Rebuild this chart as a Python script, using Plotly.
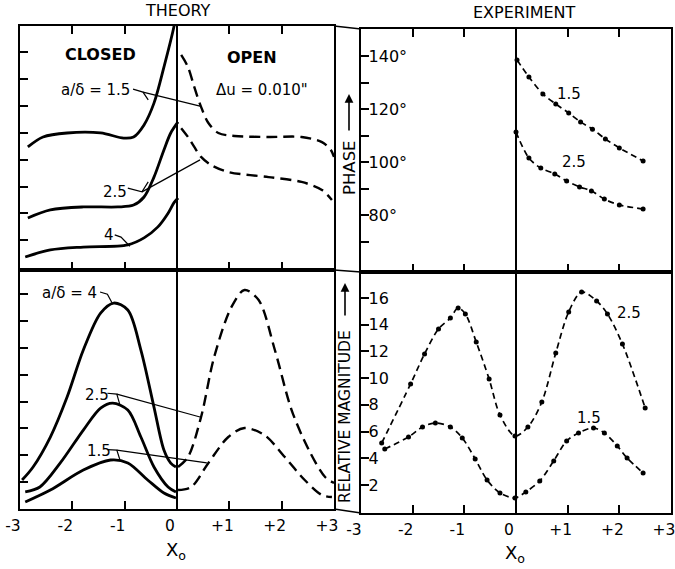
import plotly.graph_objects as go

# ---------------- data ----------------
# THEORY - phase (upper left)
th_ph_closed15_x = [-2.85, -2.56, -2.10, -1.46, -1.02, -0.83, -0.63, -0.44, -0.25, -0.06, 0.0]
th_ph_closed15_y = [104.7, 108.4, 109.9, 109.9, 108.0, 108.4, 112.9, 121.0, 134.4, 149.3, 156.0]
th_ph_open15_x = [0.08, 0.21, 0.33, 0.46, 0.60, 0.79, 1.10, 1.75, 2.38, 2.77, 2.94, 3.0]
th_ph_open15_y = [138.9, 134.4, 127.0, 119.6, 113.6, 109.9, 108.8, 108.4, 108.4, 106.5, 103.6, 101.0]
th_ph_closed25_x = [-2.85, -2.42, -1.79, -1.13, -0.83, -0.63, -0.44, -0.25, -0.12, 0.02]
th_ph_closed25_y = [78.3, 81.3, 82.4, 82.4, 83.1, 86.1, 93.5, 103.6, 109.9, 114.0]
th_ph_open25_x = [0.08, 0.21, 0.33, 0.46, 0.65, 0.98, 1.75, 2.38, 2.77, 2.96]
th_ph_open25_y = [111.7, 108.4, 104.7, 101.0, 98.0, 95.4, 93.5, 91.7, 88.7, 85.0]
th_ph_closed4_x = [-2.90, -2.42, -1.79, -0.94, -0.63, -0.37, -0.17, -0.06, 0.02]
th_ph_closed4_y = [63.8, 66.4, 67.5, 68.3, 70.9, 74.9, 80.1, 83.9, 85.7]

# THEORY - relative magnitude (lower left)
th_mag_closed4_x = [-2.96, -2.75, -2.42, -2.10, -1.79, -1.46, -1.21, -0.94, -0.69, -0.44, -0.25, -0.12, -0.02]
th_mag_closed4_y = [2.16, 3.13, 5.36, 8.34, 11.84, 14.59, 15.34, 14.82, 11.84, 7.59, 4.39, 3.42, 3.13]
th_mag_open25_x = [0.02, 0.21, 0.46, 0.71, 1.04, 1.29, 1.56, 1.87, 2.19, 2.52, 2.83, 3.0]
th_mag_open25_y = [3.13, 3.87, 6.85, 11.32, 15.04, 16.31, 15.56, 11.84, 7.37, 4.39, 2.38, 1.94]
th_mag_closed25_x = [-2.90, -2.62, -2.23, -1.79, -1.46, -1.23, -0.94, -0.69, -0.44, -0.17, -0.02]
th_mag_closed25_y = [1.27, 1.64, 3.43, 5.88, 7.52, 7.89, 7.37, 5.36, 3.13, 1.64, 1.27]
th_mag_closed15_x = [-2.90, -2.42, -1.79, -1.27, -0.94, -0.56, -0.25, -0.02]
th_mag_closed15_y = [0.52, 1.41, 2.90, 3.65, 3.43, 2.16, 1.19, 0.82]
th_mag_open15_x = [0.02, 0.27, 0.60, 0.98, 1.29, 1.67, 2.06, 2.44, 2.77, 2.96]
th_mag_open15_y = [1.41, 1.64, 3.43, 5.36, 6.03, 5.51, 3.87, 2.16, 1.04, 0.89]

# EXPERIMENT - phase (upper right)
ex_ph15_x = [0.02, 0.25, 0.52, 0.77, 1.02, 1.25, 1.48, 1.73, 2.0, 2.46]
ex_ph15_y = [138.5, 132.1, 125.7, 121.9, 118.5, 115.1, 112.4, 108.7, 105.3, 100.4]
ex_ph25_x = [0.0, 0.25, 0.48, 0.75, 0.98, 1.23, 1.46, 1.71, 2.0, 2.46]
ex_ph25_y = [111.3, 101.5, 97.7, 95.5, 92.8, 90.6, 89.1, 86.0, 83.8, 82.3]

# EXPERIMENT - relative magnitude (lower right)
ex_mag25_x = [-2.60, -2.04, -1.77, -1.50, -1.27, -1.12, -0.98, -0.77, -0.52, -0.31, -0.02,
              0.23, 0.50, 0.77, 1.02, 1.27, 1.56, 1.77, 2.06, 2.50]
ex_mag25_y = [5.14, 9.56, 11.81, 13.68, 14.50, 15.25, 14.80, 12.70, 9.93, 7.24, 5.67,
              6.34, 8.21, 11.88, 14.95, 16.45, 15.77, 14.80, 12.55, 7.76]
ex_mag15_x = [-2.54, -2.08, -1.81, -1.56, -1.27, -1.04, -0.79, -0.56, -0.31, -0.02,
              0.19, 0.46, 0.73, 0.98, 1.21, 1.50, 1.71, 1.96, 2.15, 2.46]
ex_mag15_y = [4.69, 5.59, 6.34, 6.64, 6.34, 5.52, 3.95, 2.37, 1.40, 1.03,
              1.48, 2.30, 3.80, 5.29, 5.89, 6.27, 5.89, 4.92, 4.02, 2.90]

x_tickvals = [-3, -2, -1, 0, 1, 2, 3]
x_ticktext = ["-3", "-2", "-1", "0", "+1", "+2", "+3"]
phase_tickvals = [70, 80, 90, 100, 110, 120, 130, 140]
phase_ticktext = ["", "80°", "", "100°", "", "120°", "", "140°"]
mag_tickvals = [2, 4, 6, 8, 10, 12, 14, 16]
mag_ticktext = ["2", "4", "6", "8", "10", "12", "14", "16"]

# ---------------- figure ----------------
W, H = 675, 569
FONT = "DejaVu Sans"
fig = go.Figure()

SOLID = dict(color="black", width=2.8, shape="spline", smoothing=0.9)
TDASH = dict(color="black", width=2.4, dash="11px,6px", shape="spline", smoothing=0.9)
EDASH = dict(color="black", width=1.7, dash="6px,4px", shape="spline", smoothing=0.9)


def line(x, y, style, xa, ya):
    fig.add_trace(go.Scatter(x=x, y=y, mode="lines", line=style, xaxis=xa, yaxis=ya,
                             showlegend=False, hoverinfo="skip"))


def exp(x, y, xa, ya):
    fig.add_trace(go.Scatter(x=x, y=y, mode="lines+markers", line=EDASH,
                             marker=dict(color="black", size=5), xaxis=xa, yaxis=ya,
                             showlegend=False, hoverinfo="skip"))


line(th_ph_closed15_x, th_ph_closed15_y, SOLID, "x", "y")
line(th_ph_open15_x, th_ph_open15_y, TDASH, "x", "y")
line(th_ph_closed25_x, th_ph_closed25_y, SOLID, "x", "y")
line(th_ph_open25_x, th_ph_open25_y, TDASH, "x", "y")
line(th_ph_closed4_x, th_ph_closed4_y, SOLID, "x", "y")

line(th_mag_closed4_x, th_mag_closed4_y, SOLID, "x2", "y2")
line(th_mag_open25_x, th_mag_open25_y, TDASH, "x2", "y2")
line(th_mag_closed25_x, th_mag_closed25_y, SOLID, "x2", "y2")
line(th_mag_closed15_x, th_mag_closed15_y, SOLID, "x2", "y2")
line(th_mag_open15_x, th_mag_open15_y, TDASH, "x2", "y2")

exp(ex_ph15_x, ex_ph15_y, "x3", "y3")
exp(ex_ph25_x, ex_ph25_y, "x3", "y3")
exp(ex_mag25_x, ex_mag25_y, "x4", "y4")
exp(ex_mag15_x, ex_mag15_y, "x4", "y4")


def px_x(p):
    return p / W


def px_y(p):
    return 1 - p / H


LX = [px_x(20), px_x(334)]
RX = [px_x(361), px_x(671)]
L_TOP = [px_y(270), px_y(26)]
L_BOT = [px_y(509), px_y(270)]
R_TOP = [px_y(272), px_y(29)]
R_BOT = [px_y(513), px_y(272)]

AX = dict(showline=True, linecolor="black", linewidth=1.5, ticks="inside", ticklen=8,
          tickwidth=1.5, tickcolor="black", showgrid=False, fixedrange=True,
          automargin=False)


def xax(domain, anchor, labels, top_ticks):
    d = dict(AX, domain=domain, anchor=anchor, range=[-3, 3], tickvals=x_tickvals,
             ticktext=x_ticktext, showticklabels=labels,
             mirror="allticks" if top_ticks else True,
             zeroline=True, zerolinecolor="black", zerolinewidth=1.5,
             ticklabeloverflow="allow",
             tickfont=dict(family=FONT, size=15.5, color="black"))
    if labels:
        d["ticklabelstandoff"] = 2
        d["ticklabelshift"] = -7
    return d


def yax(domain, anchor, rng, vals, text, labels):
    return dict(AX, domain=domain, anchor=anchor, range=rng, tickvals=vals, ticktext=text,
                showticklabels=labels, mirror=True, zeroline=False,
                ticklabelposition="inside", ticklabeloverflow="allow",
                tickfont=dict(family=FONT, size=16, color="black"))


fig.update_layout(
    width=W, height=H, autosize=False,
    margin=dict(l=0, r=0, t=0, b=0, pad=0),
    paper_bgcolor="white", plot_bgcolor="white",
    font=dict(family=FONT, color="black"),
    xaxis=xax(LX, "y", False, True),
    yaxis=yax(L_TOP, "x", [58.96, 149.67], phase_tickvals, phase_ticktext, False),
    xaxis2=xax(LX, "y2", True, False),
    yaxis2=yax(L_BOT, "x2", [0.0, 17.80], mag_tickvals, mag_ticktext, False),
    xaxis3=xax(RX, "y3", False, True),
    yaxis3=yax(R_TOP, "x3", [58.49, 150.19], phase_tickvals, phase_ticktext, True),
    xaxis4=xax(RX, "y4", True, False),
    yaxis4=yax(R_BOT, "x4", [-0.10, 17.94], mag_tickvals, mag_ticktext, True),
)

# frame lines of the narrow label strip between the two halves
for yl, yr in [(26, 29), (270, 272), (509, 513)]:
    fig.add_shape(type="line", xref="paper", yref="paper",
                  x0=px_x(334), y0=px_y(yl), x1=px_x(361), y1=px_y(yr),
                  line=dict(color="black", width=1.5))

# leader lines (in data coordinates of each panel)
leaders = [
    ("x", "y", [(-0.84, 126.2), (-0.65, 125.1), (-0.55, 122.2)]),
    ("x", "y", [(-0.65, 125.1), (0.44, 119.9)]),
    ("x", "y", [(-0.94, 89.4), (-0.67, 88.0), (-0.55, 91.7)]),
    ("x", "y", [(-0.67, 88.0), (0.44, 99.9)]),
    ("x", "y", [(-1.19, 72.0), (-1.07, 71.2), (-0.90, 67.8)]),
    ("x2", "y2", [(-1.47, 16.16), (-1.33, 16.0), (-1.24, 15.34)]),
    ("x2", "y2", [(-1.33, 8.62), (-1.15, 8.56), (-1.09, 7.74)]),
    ("x2", "y2", [(-1.15, 8.56), (0.44, 6.85)]),
    ("x2", "y2", [(-1.33, 4.42), (-1.15, 4.39), (-1.09, 3.65)]),
    ("x2", "y2", [(-1.15, 4.39), (0.57, 3.43)]),
]
for xr, yr, pts in leaders:
    path = "M " + " L ".join(f"{a},{b}" for a, b in pts)
    fig.add_shape(type="path", xref=xr, yref=yr, path=path,
                  line=dict(color="black", width=1.2))


def note(text, x, y, xr, yr, size=16, bold=False, angle=0):
    fig.add_annotation(text=f"<b>{text}</b>" if bold else text, x=x, y=y, xref=xr, yref=yr,
                       showarrow=False, textangle=angle, xanchor="center", yanchor="middle",
                       font=dict(family=FONT, size=size, color="black"))


def up_arrow(xp, tip, length):
    fig.add_annotation(text="", x=px_x(xp), y=px_y(tip), xref="paper", yref="paper",
                       ax=0, ay=length, axref="pixel", ayref="pixel", showarrow=True,
                       arrowhead=2, arrowsize=1.1, arrowwidth=1.6, arrowcolor="black",
                       standoff=0, startstandoff=0)


note("CLOSED", -1.47, 138.9, "x", "y", 16, True)
note("OPEN", 1.43, 138.1, "x", "y", 16, True)
note("a/δ = 1.5", -1.55, 125.9, "x", "y", 15)
note("Δu = 0.010\"", 1.63, 125.9, "x", "y", 15)
note("2.5", -1.19, 88.0, "x", "y", 15)
note("4", -1.30, 71.8, "x", "y", 15)
note("a/δ = 4", -2.05, 16.1, "x2", "y2", 15)
note("2.5", -1.52, 8.5, "x2", "y2", 15)
note("1.5", -1.50, 4.3, "x2", "y2", 15)
note("1.5", 1.02, 125.7, "x3", "y3", 15)
note("2.5", 1.12, 100.0, "x3", "y3", 15)
note("2.5", 2.19, 14.87, "x4", "y4", 15)
note("1.5", 1.42, 7.01, "x4", "y4", 15)

note("THEORY", px_x(178), px_y(11), "paper", "paper", 16)
note("EXPERIMENT", px_x(524), px_y(13), "paper", "paper", 16)
note("PHASE", px_x(349), px_y(168), "paper", "paper", 16.5, False, -90)
up_arrow(349, 94, 38)
note("RELATIVE MAGNITUDE", px_x(345), px_y(417), "paper", "paper", 15.5, False, -90)
up_arrow(345, 283, 34)
note("X<sub>o</sub>", px_x(176), px_y(551), "paper", "paper", 18)
note("X<sub>o</sub>", px_x(515), px_y(554), "paper", "paper", 18)

fig.write_html("out.html", config={"displayModeBar": False},
               post_script="document.body.style.margin='0';")
